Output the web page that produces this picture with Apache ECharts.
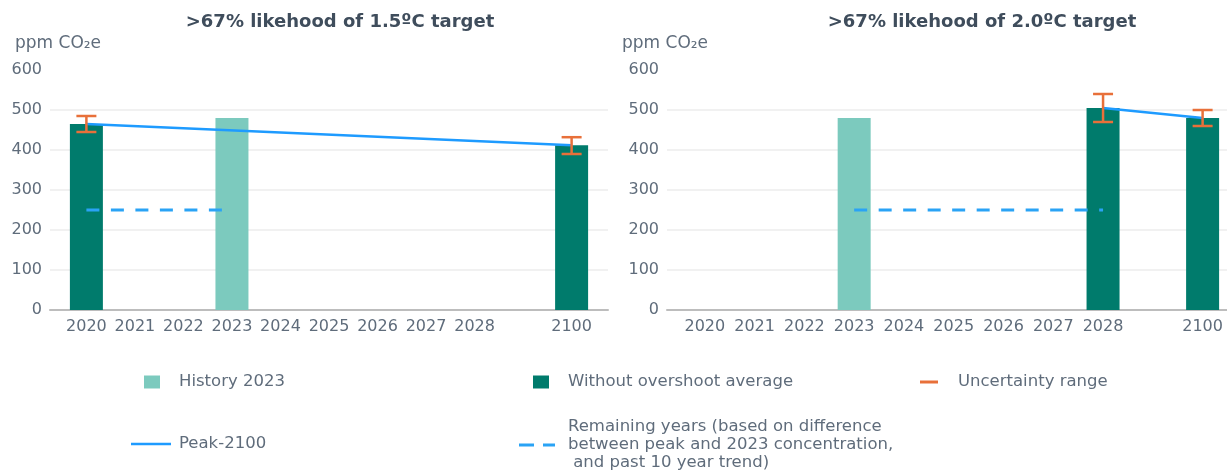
<!DOCTYPE html>
<html>
<head>
    <meta charset="utf-8">
    <title>CO2e concentration targets</title>
    <script src="https://cdn.jsdelivr.net/npm/echarts@6/dist/echarts.min.js"></script>
</head>
<body style="margin:0">
<div id="main" style="width: 1227px;height:471px;"></div>
<script type="text/javascript">
    // x positions are category slots, slot 9 is an empty gap before 2100
    const yearLabels = ['2020', '2021', '2022', '2023', '2024', '2025', '2026', '2027', '2028', '', '2100'];
    const tickSlots = [0, 1, 2, 3, 4, 5, 6, 7, 8, 10];
    const yTicks = [0, 100, 200, 300, 400, 500, 600];

    // >67% likelihood of 1.5C
    const hist15Years = ['2023'];
    const hist15Values = [480];
    const avg15Years = ['2020', '2100'];
    const avg15Values = [465, 412];
    const unc15Low = [445, 390];
    const unc15High = [485, 432];
    const peak15Years = ['2020', '2100'];
    const peak15Values = [465, 412];
    const remain15Years = ['2020', '2023'];
    const remain15Values = [250, 250];

    // >67% likelihood of 2.0C
    const hist20Years = ['2023'];
    const hist20Values = [480];
    const avg20Years = ['2028', '2100'];
    const avg20Values = [505, 480];
    const unc20Low = [470, 460];
    const unc20High = [540, 500];
    const peak20Years = ['2028', '2100'];
    const peak20Values = [505, 480];
    const remain20Years = ['2023', '2028'];
    const remain20Values = [250, 250];

    const remainText = 'Remaining years (based on difference\nbetween peak and 2023 concentration,\n and past 10 year trend)';

    const textColor = '#5f6c7b';
    const fontFamily = 'DejaVu Sans';

    function slot(year) {
        return yearLabels.indexOf(year);
    }

    function pairs(years, values) {
        return years.map((y, i) => [slot(y), values[i]]);
    }

    function triples(years, lows, highs) {
        return years.map((y, i) => [slot(y), lows[i], highs[i]]);
    }

    function errorBar(params, api) {
        const x = api.value(0);
        const lo = api.coord([x, api.value(1)]);
        const hi = api.coord([x, api.value(2)]);
        const half = 10;
        const style = {stroke: '#e8703a', lineWidth: 2.5};
        return {
            type: 'group',
            children: [
                {type: 'line', shape: {x1: lo[0], y1: lo[1], x2: hi[0], y2: hi[1]}, style: style},
                {type: 'line', shape: {x1: lo[0] - half, y1: lo[1], x2: lo[0] + half, y2: lo[1]}, style: style},
                {type: 'line', shape: {x1: hi[0] - half, y1: hi[1], x2: hi[0] + half, y2: hi[1]}, style: style}
            ]
        };
    }

    function xAxisFor(idx, min, max) {
        return {
            type: 'value',
            gridIndex: idx,
            min: min,
            max: max,
            splitLine: {show: false},
            axisTick: {show: false},
            axisLine: {show: true, onZero: false, lineStyle: {color: '#bdbdbd', width: 2}},
            axisLabel: {
                customValues: tickSlots,
                formatter: v => yearLabels[Math.round(v)],
                color: textColor,
                fontFamily: fontFamily,
                fontSize: 16,
                margin: 9
            }
        };
    }

    function yAxisFor(idx) {
        return {
            type: 'value',
            gridIndex: idx,
            min: yTicks[0],
            max: yTicks[yTicks.length - 1],
            interval: 100,
            axisLine: {show: false},
            axisTick: {show: false},
            axisLabel: {color: textColor, fontFamily: fontFamily, fontSize: 16, margin: 8},
            splitLine: {
                lineStyle: {
                    color: yTicks.map((t, i) => i === yTicks.length - 1 ? 'rgba(0,0,0,0)' : '#ececec'),
                    width: 1.5
                }
            }
        };
    }

    function panelSeries(idx, hist, avg, unc, peak, remain) {
        return [
            {
                name: 'History 2023', type: 'bar', xAxisIndex: idx, yAxisIndex: idx,
                barWidth: 33, barGap: '-100%', itemStyle: {color: '#7ccabe'}, data: hist
            },
            {
                name: 'Without overshoot average', type: 'bar', xAxisIndex: idx, yAxisIndex: idx,
                barWidth: 33, barGap: '-100%', itemStyle: {color: '#007b6c'}, data: avg
            },
            {
                name: 'Peak-2100', type: 'line', xAxisIndex: idx, yAxisIndex: idx,
                symbol: 'none', z: 3, itemStyle: {color: '#1e9bff'},
                lineStyle: {color: '#1e9bff', width: 2.5}, data: peak
            },
            {
                name: 'Remaining years', type: 'line', xAxisIndex: idx, yAxisIndex: idx,
                symbol: 'none', z: 3, itemStyle: {color: '#2aa3f5'},
                lineStyle: {color: '#2aa3f5', width: 3, type: [13, 11.5]}, data: remain
            },
            {
                name: 'Uncertainty range', type: 'custom', xAxisIndex: idx, yAxisIndex: idx,
                renderItem: errorBar, z: 4, itemStyle: {color: '#e8703a'},
                encode: {x: 0, y: [1, 2]}, data: unc
            }
        ];
    }

    function legendItem(name, left, top, w, h, gap, icon) {
        return {
            data: [name],
            left: left,
            top: top,
            padding: 0,
            itemWidth: w,
            itemHeight: h,
            icon: icon,
            selectedMode: false,
            textStyle: {
                color: textColor, fontFamily: fontFamily, fontSize: 16.5, lineHeight: 18,
                padding: [0, 0, 0, gap]
            },
            formatter: n => n === 'Remaining years' ? remainText : n
        };
    }

    const myChart = echarts.init(document.getElementById('main'));

    const option = {
        animation: false,
        graphic: [
            {type: 'text', x: 340, y: 22, style: {text: '>67% likehood of 1.5ºC target', fill: '#3f4d5c', font: 'bold 18px "DejaVu Sans"', textAlign: 'center', textVerticalAlign: 'middle'}},
            {type: 'text', x: 982, y: 22, style: {text: '>67% likehood of 2.0ºC target', fill: '#3f4d5c', font: 'bold 18px "DejaVu Sans"', textAlign: 'center', textVerticalAlign: 'middle'}},
            {type: 'text', x: 15, y: 44, style: {text: 'ppm CO₂e', fill: textColor, font: '17px "DejaVu Sans"', textVerticalAlign: 'middle'}},
            {type: 'text', x: 622, y: 44, style: {text: 'ppm CO₂e', fill: textColor, font: '17px "DejaVu Sans"', textVerticalAlign: 'middle'}}
        ],
        grid: [
            {left: 50, right: 619, top: 70, bottom: 161},
            {left: 667, right: 0, top: 70, bottom: 161}
        ],
        xAxis: [xAxisFor(0, -0.75, 10.75), xAxisFor(1, -0.76, 10.49)],
        yAxis: [yAxisFor(0), yAxisFor(1)],
        legend: [
            legendItem('History 2023', 144, 373, 16, 13, 14, 'rect'),
            legendItem('Without overshoot average', 533, 373, 16, 13, 14, 'rect'),
            legendItem('Uncertainty range', 920, 373, 18, 3, 15, 'rect'),
            legendItem('Peak-2100', 131, 435, 40, 2.5, 3, 'rect'),
            legendItem('Remaining years', 519, 418, 36, 3, 8, 'path://M0,0h15v3h-15z M24,0h12v3h-12z')
        ],
        series: [
            ...panelSeries(0,
                pairs(hist15Years, hist15Values),
                pairs(avg15Years, avg15Values),
                triples(avg15Years, unc15Low, unc15High),
                pairs(peak15Years, peak15Values),
                pairs(remain15Years, remain15Values)),
            ...panelSeries(1,
                pairs(hist20Years, hist20Values),
                pairs(avg20Years, avg20Values),
                triples(avg20Years, unc20Low, unc20High),
                pairs(peak20Years, peak20Values),
                pairs(remain20Years, remain20Values))
        ]
    };

    myChart.setOption(option);
</script>
</body>
</html>
